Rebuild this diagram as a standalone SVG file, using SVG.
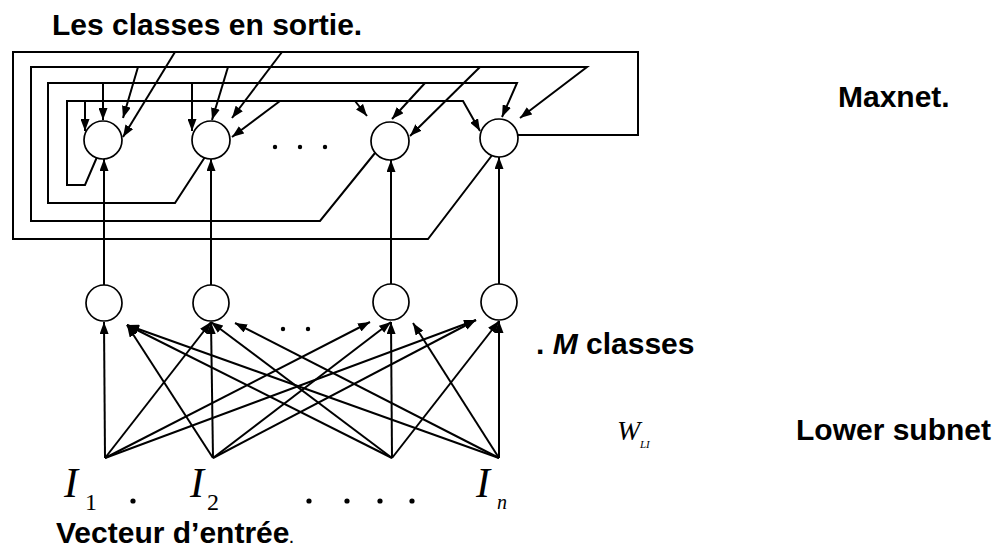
<svg xmlns="http://www.w3.org/2000/svg" width="998" height="549" viewBox="0 0 998 549">
<defs>
<marker id="ah" viewBox="0 0 12 9" refX="12" refY="4.5" markerWidth="12" markerHeight="9" orient="auto" markerUnits="userSpaceOnUse"><path d="M0,0 L12,4.5 L0,9 z" fill="#000"/></marker>
<style>
.ln{stroke:#000;stroke-width:2;fill:none;stroke-linejoin:miter}
.ar{marker-end:url(#ah)}
.nd{fill:#fff;stroke:#000;stroke-width:1.7}
.lbl{font-family:"Liberation Sans",Arial,sans-serif;font-weight:bold;font-size:30px;fill:#000}
.mi{font-family:"Liberation Serif","Times New Roman",serif;font-style:italic;fill:#000}
.mr{font-family:"Liberation Serif","Times New Roman",serif;fill:#000}
.dot{fill:#000}
</style>
</defs>
<rect width="998" height="549" fill="#fff"/>
<g id="connectors">
<path class="ln ar" d="M97,157 L85,185 L67,185 L67,101 L463,101 L480,131"/>
<path class="ln ar" d="M85,101 L85,131"/>
<path class="ln ar" d="M280,101 L232,137"/>
<path class="ln ar" d="M355,101 L367,116"/>
<path class="ln ar" d="M205,157 L175,203 L48,203 L48,83 L517,83 L502,117"/>
<path class="ln ar" d="M103,83 L103,120"/>
<path class="ln ar" d="M192,83 L192,131"/>
<path class="ln ar" d="M425,83 L392,119"/>
<path class="ln ar" d="M375,153 L320,221 L31,221 L31,67 L587,67 L520,118"/>
<path class="ln ar" d="M138,67 L123,118"/>
<path class="ln ar" d="M228,67 L212,120"/>
<path class="ln ar" d="M480,67 L410,136"/>
<path class="ln" d="M493,154 L428,239 L13,239 L13,52 L638,52 L638,135 L518,135"/>
<path class="ln ar" d="M175,52 L123,137"/>
<path class="ln ar" d="M282,52 L232,118"/>
<path class="ln ar" d="M104,285 L104,159"/>
<path class="ln ar" d="M211,285 L211,159"/>
<path class="ln ar" d="M391,284 L391,160"/>
<path class="ln ar" d="M499,284 L499,157"/>
<path class="ln ar" d="M105,458 L104,322"/>
<path class="ln ar" d="M105,458 L211,322"/>
<path class="ln ar" d="M105,458 L370,322"/>
<path class="ln ar" d="M105,458 L476,320"/>
<path class="ln ar" d="M213,458 L127,325"/>
<path class="ln ar" d="M213,458 L211,322"/>
<path class="ln ar" d="M213,458 L391,322"/>
<path class="ln ar" d="M213,458 L476,320"/>
<path class="ln ar" d="M392,458 L127,325"/>
<path class="ln ar" d="M392,458 L211,322"/>
<path class="ln ar" d="M392,458 L391,322"/>
<path class="ln ar" d="M392,458 L499,321"/>
<path class="ln ar" d="M499,458 L127,325"/>
<path class="ln ar" d="M499,458 L235,323"/>
<path class="ln ar" d="M499,458 L413,323"/>
<path class="ln ar" d="M499,458 L499,321"/>
</g>
<g id="maxnet-1"><circle class="nd" cx="103" cy="140" r="19"/></g>
<g id="maxnet-2"><circle class="nd" cx="211" cy="140" r="19"/></g>
<g id="maxnet-3"><circle class="nd" cx="390" cy="141" r="19"/></g>
<g id="maxnet-4"><circle class="nd" cx="499" cy="138" r="19"/></g>
<g id="maxnet-dots"><circle class="dot" cx="275" cy="147" r="2.2"/><circle class="dot" cx="300" cy="147" r="2.2"/><circle class="dot" cx="325" cy="147" r="2.2"/></g>
<g id="class-1"><circle class="nd" cx="104" cy="303" r="18"/></g>
<g id="class-2"><circle class="nd" cx="211" cy="303" r="18"/></g>
<g id="class-3"><circle class="nd" cx="391" cy="302" r="18"/></g>
<g id="class-4"><circle class="nd" cx="499" cy="302" r="18"/></g>
<g id="class-dots"><circle class="dot" cx="283" cy="329" r="2.2"/><circle class="dot" cx="308" cy="329" r="2.2"/></g>
<g id="input-1"><text class="mi" x="64" y="497" font-size="42">I</text><text class="mr" x="85" y="510" font-size="24">1</text></g>
<g id="input-2"><text class="mi" x="190" y="497" font-size="42">I</text><text class="mr" x="207" y="510" font-size="24">2</text></g>
<g id="input-n"><text class="mi" x="476" y="497" font-size="42">I</text><text class="mi" x="497" y="509" font-size="20">n</text></g>
<g id="input-dots"><circle class="dot" cx="133" cy="501" r="2.6"/><circle class="dot" cx="309" cy="501" r="2.6"/><circle class="dot" cx="347" cy="501" r="2.6"/><circle class="dot" cx="380" cy="501" r="2.6"/><circle class="dot" cx="412" cy="501" r="2.6"/></g>
<g id="labels">
<text class="lbl" x="52" y="35">Les classes en sortie.</text>
<text class="lbl" x="838" y="107">Maxnet.</text>
<text class="lbl" x="536" y="354">. <tspan font-style="italic">M</tspan> classes</text>
<text class="mi" x="617" y="440" font-size="28">W</text><text class="mi" x="640" y="448" font-size="11">LI</text>
<text class="lbl" x="796" y="440">Lower subnet</text>
<text class="lbl" x="56" y="543">Vecteur d’entrée<tspan font-size="14">.</tspan></text>
</g>
</svg>
